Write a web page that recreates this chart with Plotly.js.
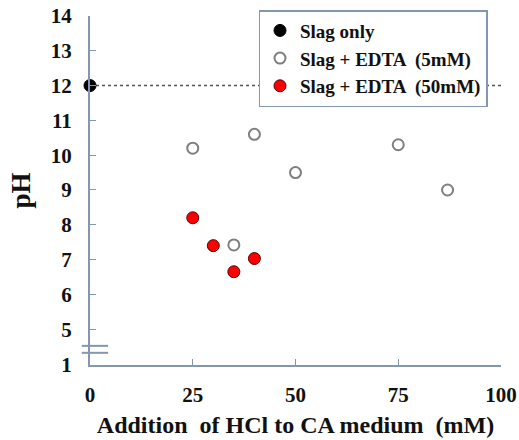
<!DOCTYPE html>
<html>
<head>
<meta charset="utf-8">
<script src="https://cdn.plot.ly/plotly-3.0.1.min.js"></script>
<style>html,body{margin:0;padding:0;background:#fff}#chart{width:519px;height:440px}</style>
</head>
<body>
<div id="chart"></div>
<script>
// Data
const slagX = [0];
const slagY = [12.0];
const edta5X = [25, 35, 40, 50, 75, 87];
const edta5Y = [10.2, 7.42, 10.6, 9.5, 10.3, 9.0];
const edta50X = [25, 30, 35, 40];
const edta50Y = [8.2, 7.4, 6.65, 7.03];
const seriesNames = ["Slag only", "Slag + EDTA  (5mM)", "Slag + EDTA  (50mM)"];
const xTickVals = [0, 25, 50, 75, 100];
const yTickVals = [3.97, 5, 6, 7, 8, 9, 10, 11, 12, 13, 14];
const yTickText = ["1", "5", "6", "7", "8", "9", "10", "11", "12", "13", "14"];

const axisColor = "#8497b0";
const fontFam = "Liberation Serif, Times New Roman, serif";
const txt = "#111";

const traces = [
  {x: slagX, y: slagY, name: seriesNames[0], mode: "markers", type: "scatter",
   marker: {color: "#000", size: 12, line: {color: "#000", width: 1}}, cliponaxis: false},
  {x: edta5X, y: edta5Y, name: seriesNames[1], mode: "markers", type: "scatter",
   marker: {color: "#fff", size: 11, line: {color: "#7f7f7f", width: 2}}, cliponaxis: false},
  {x: edta50X, y: edta50Y, name: seriesNames[2], mode: "markers", type: "scatter",
   marker: {color: "#ff0000", size: 12, line: {color: "#5a0000", width: 1}}, cliponaxis: false}
];

const layout = {
  width: 519, height: 440,
  margin: {l: 90, r: 18, t: 16, b: 75, autoexpand: false},
  paper_bgcolor: "#fff", plot_bgcolor: "#fff",
  font: {family: fontFam, color: txt},
  showlegend: true,
  legend: {x: 0.41, y: 1.017, xanchor: "left", yanchor: "top",
    bgcolor: "#fff", bordercolor: axisColor, borderwidth: 1.5,
    font: {family: fontFam, size: 19, weight: "bold", color: txt},
    itemwidth: 30, tracegroupgap: 0},
  xaxis: {range: [0, 100], tickvals: xTickVals, ticks: "inside", ticklen: 6, tickcolor: axisColor,
    showline: true, linecolor: axisColor, linewidth: 2, showgrid: false, zeroline: false,
    tickfont: {family: fontFam, size: 21, weight: "bold", color: txt}, ticklabelstandoff: 10,
    title: {text: "Addition  of HCl to CA medium  (mM)", font: {family: fontFam, size: 24, weight: "bold", color: txt}, standoff: 10}},
  yaxis: {range: [3.97, 14], tickvals: yTickVals, ticktext: yTickText, ticks: "inside", ticklen: 6, tickcolor: axisColor,
    showline: true, linecolor: axisColor, linewidth: 2, showgrid: false, zeroline: false,
    tickfont: {family: fontFam, size: 21, weight: "bold", color: txt}, ticklabelstandoff: 12,
    title: {text: "pH", font: {family: fontFam, size: 27, weight: "bold", color: txt}, standoff: 12}},
  shapes: [
    {type: "line", xref: "x", yref: "y", x0: slagX[0], x1: 103, y0: slagY[0], y1: slagY[0],
     line: {color: "#555", width: 1.5, dash: "dot"}, layer: "below"},
    {type: "line", xref: "paper", yref: "y", x0: -0.02, x1: 0.044, y0: 4.52, y1: 4.52, line: {color: axisColor, width: 2}},
    {type: "line", xref: "paper", yref: "y", x0: -0.02, x1: 0.044, y0: 4.32, y1: 4.32, line: {color: axisColor, width: 2}}
  ]
};

Plotly.newPlot("chart", traces, layout, {displayModeBar: false, staticPlot: true});
</script>
</body>
</html>
